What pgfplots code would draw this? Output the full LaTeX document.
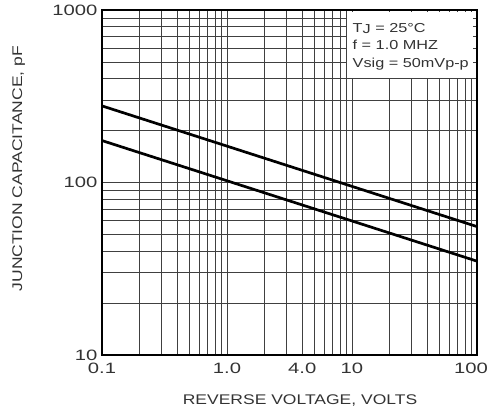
\documentclass[border=0pt]{standalone}
\usepackage{pgfplots}
\pgfplotsset{compat=1.18}
\usepackage{fontspec}
\setmainfont{Liberation Sans}[FakeStretch=1.35]
\newfontfamily\legfont{Liberation Sans}[FakeStretch=1.25]
\newfontfamily\labfont{Liberation Sans}[FakeStretch=1.25]
\begin{document}
\begin{tikzpicture}
\useasboundingbox (-102pt,-54pt) rectangle (386pt,355pt);
\begin{axis}[
 at={(0,0)}, anchor=south west,
 scale only axis, width=375pt, height=345pt,
 xmode=log, ymode=log,
 xmin=0.1, xmax=100, ymin=10, ymax=1000,
 xtick={0.1,1,4,10,100}, xticklabels={0.1,1.0,4.0,10,\kern-12pt 100},
 ytick={10,100,1000}, yticklabels={10,100,1000},
 minor xtick={0.2,0.3,0.4,0.5,0.6,0.7,0.8,0.9,2,3,5,6,7,8,9,20,30,40,50,60,70,80,90},
 minor ytick={20,30,40,50,60,70,80,90,200,300,400,500,600,700,800,900},
 grid=both,
 major grid style={black!75, line width=0.65pt},
 minor grid style={black!75, line width=0.65pt},
 major tick length=0pt, minor tick length=0pt,
 axis line style={black, line width=1.5pt},
 /pgf/number format/assume math mode=true,
 tick label style={font=\fontsize{15}{17}\selectfont, text=black!80},
 xticklabel style={yshift=-4pt},
 yticklabel style={xshift=-1pt},
 xlabel={REVERSE VOLTAGE, VOLTS},
 ylabel={JUNCTION CAPACITANCE, pF},
 label style={font=\labfont\fontsize{14}{17}\selectfont, text=black!80},
 xlabel style={at={(axis description cs:0.528,-0.131)}, anchor=center},
 ylabel style={at={(axis description cs:-0.222,0.54)}, anchor=center},
]
\addplot[black, line width=2.7pt] coordinates {(0.1,278) (100,55.5)};
\addplot[black, line width=2.7pt] coordinates {(0.1,175) (100,35)};
\fill[white] (rel axis cs:0.653,0.803) rectangle (rel axis cs:0.989,0.994);
\node[anchor=north west, align=left, font=\legfont\fontsize{13}{17.5}\selectfont, text=black!80, inner sep=0pt] at (rel axis cs:0.668,0.962) {T\raisebox{-0.1ex}{J} = 25\textdegree C\\ f = 1.0 MHZ\\ Vsig = 50mVp-p};
\end{axis}
\end{tikzpicture}
\end{document}
